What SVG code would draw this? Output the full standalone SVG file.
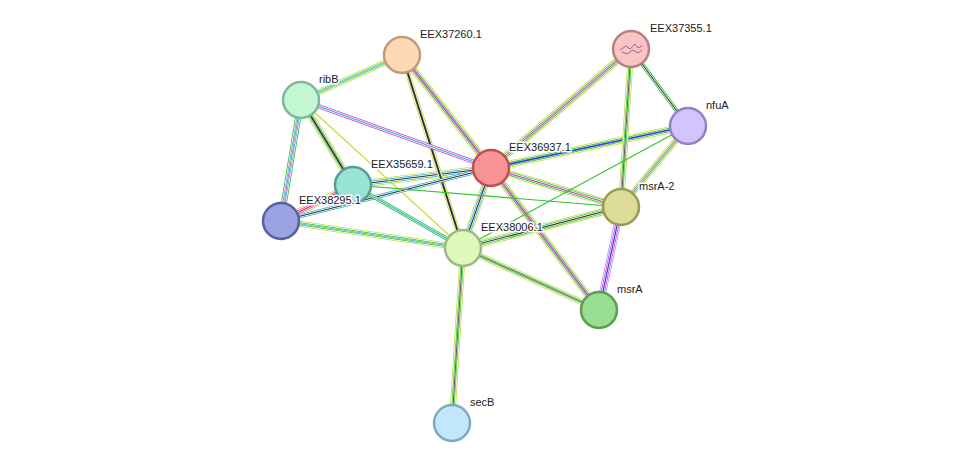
<svg xmlns="http://www.w3.org/2000/svg" xmlns:xlink="http://www.w3.org/1999/xlink" width="975" height="469" viewBox="0 0 975 469">
<style>
.l{fill:none}
.a{stroke:#c8dc3c;stroke-width:7}
.w1{stroke:#fff;stroke-width:5.4}
.b{stroke:#2ec42e;stroke-width:4}
.w2{stroke:#fff;stroke-width:2.4}
.c{stroke:#333;stroke-width:1.1}
.cy{stroke:#2ab0d8;stroke-width:1.1}
.mg{stroke:#d63ad6;stroke-width:1.1}
.g1{stroke:#2ec42e;stroke-width:1.1}
.n{stroke-width:2.5}
text{font-family:"Liberation Sans",Arial,sans-serif;font-size:11px;fill:#222;stroke:#fff;stroke-width:3;paint-order:stroke;stroke-linejoin:round}
</style>
<rect width="975" height="469" fill="#fff"/>
<defs>
<path id="e1" d="M402,55L301,100"/>
<path id="e2" d="M402,55L491,168"/>
<path id="e3" d="M402,55L463,248"/>
<path id="e4" d="M301,100L491,168"/>
<path id="e5" d="M301,100L353,185"/>
<path id="e6" d="M301,100L281,221"/>
<path id="e7" d="M301,100L463,248"/>
<path id="e8" d="M631,49L491,168"/>
<path id="e9" d="M631,49L688,126"/>
<path id="e10" d="M631,49L621,207"/>
<path id="e11" d="M688,126L491,168"/>
<path id="e12" d="M688,126L621,207"/>
<path id="e13" d="M688,126L463,248"/>
<path id="e14" d="M491,168L353,185"/>
<path id="e15" d="M491,168L281,221"/>
<path id="e16" d="M491,168L621,207"/>
<path id="e17" d="M491,168L463,248"/>
<path id="e18" d="M491,168L599,310"/>
<path id="e19" d="M353,185L281,221"/>
<path id="e20" d="M353,185L463,248"/>
<path id="e21" d="M353,185L621,207"/>
<path id="e22" d="M281,221L463,248"/>
<path id="e23" d="M621,207L463,248"/>
<path id="e24" d="M621,207L599,310"/>
<path id="e25" d="M463,248L599,310"/>
<path id="e26" d="M463,248L452,423"/>
</defs>
<g id="connectors" class="l">
<!-- multi edges -->
<g>
<use href="#e2" class="a"/><use href="#e2" class="w1"/><use href="#e2" class="b"/><use href="#e2" class="w2"/><use href="#e2" class="mg" style="stroke-width:1.6"/>
<use href="#e8" class="a"/><use href="#e8" class="w1"/><use href="#e8" class="b"/><use href="#e8" class="w2"/><use href="#e8" class="mg"/>
<use href="#e11" class="a"/><use href="#e11" class="w1"/><use href="#e11" class="b"/><use href="#e11" class="w2"/><use href="#e11" style="stroke:#3a3ae0;stroke-width:1.6"/>
<use href="#e14" class="a"/><use href="#e14" class="w1"/><use href="#e14" class="cy" style="stroke-width:4"/><use href="#e14" class="w2"/><use href="#e14" class="c"/>
<use href="#e16" class="a"/><use href="#e16" class="w1"/><use href="#e16" class="b"/><use href="#e16" class="w2"/><use href="#e16" class="mg"/>
<use href="#e17" class="a"/><use href="#e17" class="w1"/><use href="#e17" class="cy" style="stroke-width:4"/><use href="#e17" class="w2"/><use href="#e17" class="c"/>
<use href="#e18" class="a"/><use href="#e18" class="w1"/><use href="#e18" class="b"/><use href="#e18" class="w2"/><use href="#e18" class="mg" style="stroke-width:1.6"/>
<use href="#e5" class="a"/><use href="#e5" class="w1"/><use href="#e5" class="b"/><use href="#e5" class="w2"/><use href="#e5" class="c" style="stroke-width:1.6"/>
<use href="#e19" class="a"/><use href="#e19" class="w1"/><use href="#e19" class="mg" style="stroke-width:4"/><use href="#e19" class="w2"/><use href="#e19" style="stroke:#e03030;stroke-width:1.2"/>
<use href="#e23" class="a"/><use href="#e23" class="w1"/><use href="#e23" class="b"/><use href="#e23" class="w2"/><use href="#e23" class="c"/>
<use href="#e24" style="stroke:#a0a0ff;stroke-width:7"/><use href="#e24" class="w1"/><use href="#e24" class="mg" style="stroke-width:4"/><use href="#e24" class="w2"/><use href="#e24" style="stroke:#3a3ae0;stroke-width:1.2"/>
<use href="#e6" class="b" style="stroke-width:6"/><use href="#e6" class="w1" style="stroke-width:4.4"/><use href="#e6" class="cy" style="stroke-width:3"/><use href="#e6" class="w2" style="stroke-width:1.6"/><use href="#e6" class="mg" style="stroke-width:0.8"/>
<use href="#e1" class="a" style="stroke-width:6"/><use href="#e1" class="w1" style="stroke-width:4.4"/><use href="#e1" class="b" style="stroke-width:3"/><use href="#e1" class="w2" style="stroke-width:1.6"/><use href="#e1" class="cy" style="stroke-width:0.8"/>
<use href="#e10" class="a" style="stroke-width:6"/><use href="#e10" class="w1" style="stroke-width:4.4"/><use href="#e10" class="b" style="stroke-width:3"/><use href="#e10" class="w2" style="stroke-width:1.6"/><use href="#e10" class="c" style="stroke-width:0.8"/>
<use href="#e12" class="a" style="stroke-width:6"/><use href="#e12" class="w1" style="stroke-width:4.4"/><use href="#e12" class="b" style="stroke-width:3"/><use href="#e12" class="w2" style="stroke-width:1.6"/><use href="#e12" class="mg" style="stroke-width:0.8"/>
<use href="#e22" class="a" style="stroke-width:6"/><use href="#e22" class="w1" style="stroke-width:4.4"/><use href="#e22" class="b" style="stroke-width:3"/><use href="#e22" class="w2" style="stroke-width:1.6"/><use href="#e22" class="cy" style="stroke-width:0.8"/>
<use href="#e25" class="a" style="stroke-width:6"/><use href="#e25" class="w1" style="stroke-width:4.4"/><use href="#e25" class="b" style="stroke-width:3"/><use href="#e25" class="w2" style="stroke-width:1.6"/><use href="#e25" class="c" style="stroke-width:0.8"/>
<use href="#e26" class="a" style="stroke-width:6"/><use href="#e26" class="w1" style="stroke-width:4.4"/><use href="#e26" class="b" style="stroke-width:3"/><use href="#e26" class="w2" style="stroke-width:1.6"/><use href="#e26" class="c" style="stroke-width:0.8"/>
<use href="#e3" class="a" style="stroke-width:5"/><use href="#e3" class="w1" style="stroke-width:3.4"/><use href="#e3" class="c" style="stroke-width:2"/>
<use href="#e9" class="b" style="stroke-width:4"/><use href="#e9" class="w1" style="stroke-width:2.4"/><use href="#e9" class="c"/>
<use href="#e15" class="cy" style="stroke-width:4"/><use href="#e15" class="w1" style="stroke-width:2.4"/><use href="#e15" class="c"/>
<use href="#e20" class="b" style="stroke-width:4"/><use href="#e20" class="w1" style="stroke-width:2.4"/><use href="#e20" class="cy"/>
<use href="#e4" class="mg" style="stroke-width:4"/><use href="#e4" class="w1" style="stroke-width:2.4"/><use href="#e4" class="cy"/>
<use href="#e7" class="a" style="stroke-width:1.2"/>
<use href="#e13" class="g1"/>
<use href="#e21" class="g1"/>
</g>
</g>
<g id="n-EEX37260" ><circle class="n" cx="402" cy="55" r="18" fill="#fdd9b8" stroke="#c29a7a"/><text x="420" y="38">EEX37260.1</text></g>
<g id="n-EEX37355"><circle class="n" cx="631" cy="49" r="18" fill="#f8c4c4" stroke="#b88080"/><path d="M620,50l6,-4l4,3l5,-5l3,4l4,-2m-20,6l5,2l6,-4l5,3l4,-3" fill="none" stroke="#b05a8a" stroke-width="1"/><text x="650" y="32">EEX37355.1</text></g>
<g id="n-ribB"><circle class="n" cx="301" cy="100" r="18" fill="#c2f7d2" stroke="#80b898"/><text x="319" y="83">ribB</text></g>
<g id="n-nfuA"><circle class="n" cx="688" cy="126" r="18" fill="#d2c4fc" stroke="#9680c0"/><text x="706" y="109">nfuA</text></g>
<g id="n-EEX36937"><circle class="n" cx="491" cy="168" r="18" fill="#f99494" stroke="#c05050"/><text x="509" y="151">EEX36937.1</text></g>
<g id="n-EEX35659"><circle class="n" cx="353" cy="185" r="18" fill="#98e2d6" stroke="#5a9c94"/><text x="371" y="168">EEX35659.1</text></g>
<g id="n-EEX38295"><circle class="n" cx="281" cy="221" r="18" fill="#9aa4e2" stroke="#5860a0"/><text x="299" y="204">EEX38295.1</text></g>
<g id="n-msrA-2"><circle class="n" cx="621" cy="207" r="18" fill="#dcdc98" stroke="#9a9a58"/><text x="639" y="190">msrA-2</text></g>
<g id="n-EEX38006"><circle class="n" cx="463" cy="248" r="18" fill="#ddf9bc" stroke="#9cb884"/><text x="481" y="231">EEX38006.1</text></g>
<g id="n-msrA"><circle class="n" cx="599" cy="310" r="18" fill="#9ade92" stroke="#5a9c52"/><text x="617" y="293">msrA</text></g>
<g id="n-secB"><circle class="n" cx="452" cy="423" r="18" fill="#c2e6fa" stroke="#80a8c0"/><text x="470" y="406">secB</text></g>
</svg>
